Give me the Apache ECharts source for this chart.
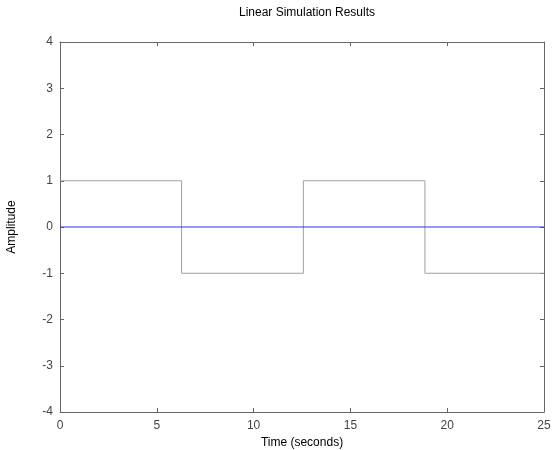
<!DOCTYPE html>
<html>
<head>
<meta charset="utf-8">
<script src="https://cdn.jsdelivr.net/npm/echarts@6/dist/echarts.min.js"></script>
<style>
  html, body { margin: 0; padding: 0; background: #fff; }
  #chart { width: 553px; height: 450px; }
</style>
</head>
<body>
<div id="chart"></div>
<script>
// input: square wave, switch times (s)
var inputTimes = [0, 6.28, 12.57, 18.85, 25];
var inputValues = [1, -1, 1, -1, -1];
// response (flat zero)
var outputTimes = [0, 25];
var outputValues = [0, 0];

var xTicks = [0, 5, 10, 15, 20, 25];
var yTicks = [-4, -3, -2, -1, 0, 1, 2, 3, 4];

function pairs(xs, ys) {
  var out = [];
  for (var i = 0; i < xs.length; i++) out.push([xs[i], ys[i]]);
  return out;
}

var axisColor = '#666';
var labelColor = '#444';
var font = 'Liberation Sans, Arial, sans-serif';

function xAxisCfg(pos, showLabel) {
  return {
    type: 'value', position: pos, min: xTicks[0], max: xTicks[xTicks.length - 1], interval: 5,
    axisLine: { show: true, onZero: false, lineStyle: { color: axisColor, width: 1 } },
    axisTick: { show: true, inside: true, length: 4, lineStyle: { color: axisColor } },
    axisLabel: { show: showLabel, color: labelColor, fontFamily: font, fontSize: 12, margin: 8 },
    splitLine: { show: false }
  };
}
function yAxisCfg(pos, showLabel) {
  return {
    type: 'value', position: pos, min: yTicks[0], max: yTicks[yTicks.length - 1], interval: 1,
    axisLine: { show: true, onZero: false, lineStyle: { color: axisColor, width: 1 } },
    axisTick: { show: true, inside: true, length: 4, lineStyle: { color: axisColor } },
    axisLabel: { show: showLabel, color: labelColor, fontFamily: font, fontSize: 12, margin: 7 },
    splitLine: { show: false }
  };
}

var chart = echarts.init(document.getElementById('chart'), null, { renderer: 'canvas' });
var bottomX = xAxisCfg('bottom', true);
bottomX.name = 'Time (seconds)';
bottomX.nameLocation = 'middle';
bottomX.nameGap = 20;
bottomX.nameTextStyle = { color: '#000', fontFamily: font, fontSize: 12 };
var leftY = yAxisCfg('left', true);
leftY.name = 'Amplitude';
leftY.nameLocation = 'middle';
leftY.nameGap = 42;
leftY.nameTextStyle = { color: '#000', fontFamily: font, fontSize: 12 };

chart.setOption({
  animation: false,
  backgroundColor: '#fff',
  title: {
    text: 'Linear Simulation Results', left: 302, top: 2, textAlign: 'center',
    textStyle: { color: '#000', fontFamily: font, fontSize: 12, fontWeight: 'normal' }
  },
  grid: { left: 60, right: 9, top: 42, bottom: 38, containLabel: false, outerBoundsMode: 'none' },
  xAxis: [bottomX, xAxisCfg('top', false)],
  yAxis: [leftY, yAxisCfg('right', false)],
  series: [
    {
      type: 'line', step: 'end', data: pairs(inputTimes, inputValues),
      showSymbol: false, lineStyle: { color: '#a0a0a0', width: 1 }, z: 2
    },
    {
      type: 'line', data: pairs(outputTimes, outputValues),
      showSymbol: false, lineStyle: { color: '#3030ff', width: 1.2 }, z: 3
    }
  ]
});
</script>
</body>
</html>
